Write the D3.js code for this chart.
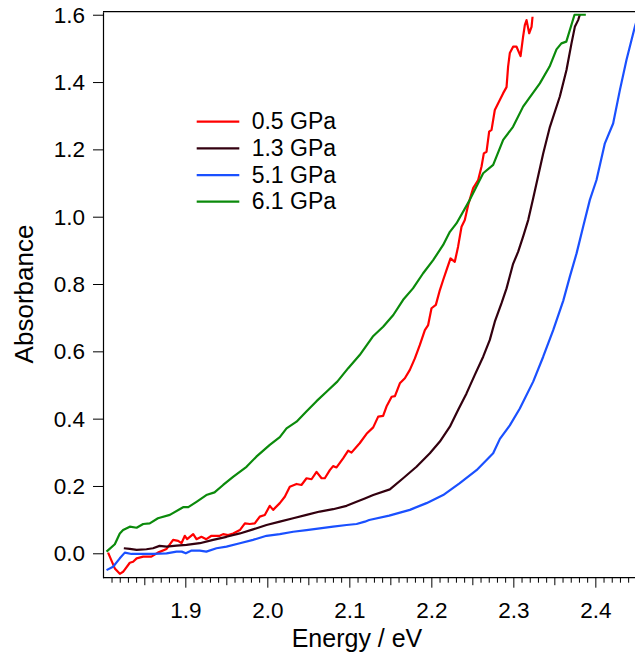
<!DOCTYPE html>
<html><head><meta charset="utf-8">
<script src="https://cdn.jsdelivr.net/npm/d3@7"></script>
<style>
html,body{margin:0;padding:0;background:#fff;overflow:hidden;}
text{font-family:"Liberation Sans",Arial,Helvetica,sans-serif;fill:#000;}
</style></head>
<body>
<svg id="chart" width="635" height="657"></svg>
<script>
// ---------- data ----------
const seriesNames = ["0.5 GPa", "1.3 GPa", "5.1 GPa", "6.1 GPa"];
const seriesColors = ["#ff0000", "#33000f", "#1a50ff", "#0b8a0b"];

const energy05 = [1.8052,1.8134,1.8195,1.8235,1.8317,1.8357,1.840,1.848,1.858,1.866,1.8765,1.8845,1.8906,1.8947,1.8988,1.9016,1.909,1.913,1.919,1.925,1.9313,1.9415,1.9455,1.9516,1.9577,1.9659,1.972,1.978,1.9841,1.9902,1.9963,2.0024,2.0065,2.0146,2.0207,2.0268,2.035,2.041,2.0472,2.0533,2.0594,2.0655,2.0695,2.0756,2.0796,2.0838,2.0918,2.098,2.102,2.1101,2.112,2.1204,2.1285,2.1346,2.1406,2.1447,2.151,2.155,2.161,2.1671,2.1732,2.1793,2.1854,2.1915,2.1955,2.1996,2.2049,2.2098,2.2138,2.2187,2.2228,2.228,2.232,2.2362,2.2402,2.2443,2.2504,2.2565,2.2606,2.2634,2.2667,2.2699,2.2728,2.2768,2.2809,2.287,2.2911,2.293,2.2951,2.2991,2.3033,2.3082,2.3113,2.3134,2.3155,2.3187,2.3216,2.3228];
const absorb05 = [0.002,-0.045,-0.061,-0.055,-0.028,-0.025,-0.015,-0.010,-0.010,0.002,0.013,0.040,0.037,0.030,0.052,0.042,0.057,0.042,0.049,0.042,0.052,0.052,0.057,0.054,0.059,0.069,0.089,0.087,0.089,0.109,0.114,0.141,0.129,0.149,0.168,0.198,0.206,0.203,0.223,0.220,0.242,0.223,0.223,0.247,0.259,0.255,0.282,0.305,0.299,0.322,0.327,0.355,0.374,0.406,0.408,0.436,0.465,0.467,0.505,0.520,0.545,0.579,0.619,0.663,0.678,0.728,0.738,0.782,0.812,0.847,0.876,0.866,0.911,0.970,0.990,1.035,1.085,1.109,1.149,1.188,1.193,1.253,1.258,1.317,1.337,1.367,1.385,1.446,1.486,1.505,1.505,1.477,1.535,1.569,1.584,1.545,1.564,1.594];

const energy13 = [1.8244,1.8317,1.840,1.852,1.860,1.868,1.8765,1.8887,1.9008,1.917,1.9333,1.9496,1.9659,1.982,1.9984,2.0146,2.0309,2.0472,2.0634,2.0796,2.096,2.1082,2.1183,2.1285,2.1488,2.165,2.1813,2.1976,2.2098,2.222,2.232,2.2423,2.2524,2.2626,2.2707,2.2768,2.285,2.2911,2.2991,2.3053,2.3113,2.3175,2.3236,2.3358,2.344,2.3561,2.3642,2.3703,2.3744,2.3784,2.3805];
const absorb13 = [0.015,0.013,0.010,0.012,0.015,0.022,0.020,0.023,0.025,0.030,0.040,0.049,0.059,0.071,0.084,0.094,0.104,0.114,0.124,0.131,0.141,0.153,0.163,0.173,0.190,0.223,0.257,0.297,0.332,0.376,0.426,0.475,0.530,0.584,0.634,0.688,0.743,0.787,0.860,0.896,0.941,0.990,1.055,1.188,1.267,1.357,1.436,1.515,1.564,1.584,1.600];

const energy51 = [1.8033,1.8113,1.8195,1.8256,1.8338,1.848,1.860,1.8765,1.8887,1.895,1.900,1.907,1.917,1.925,1.9374,1.9496,1.9659,1.982,1.9984,2.0146,2.0309,2.0472,2.0634,2.0796,2.096,2.1082,2.1183,2.1236,2.148,2.1732,2.1935,2.2138,2.2337,2.2545,2.2748,2.283,2.2951,2.3073,2.3236,2.3358,2.348,2.3602,2.3683,2.3765,2.3845,2.3927,2.4008,2.411,2.4211,2.4293,2.4374,2.4435,2.4476,2.452];
const absorb51 = [-0.050,-0.040,-0.015,0.002,-0.002,-0.002,-0.002,0.000,0.005,0.005,0.000,0.008,0.008,0.005,0.015,0.020,0.030,0.040,0.052,0.057,0.064,0.069,0.074,0.079,0.084,0.087,0.094,0.099,0.112,0.129,0.149,0.173,0.208,0.247,0.297,0.340,0.380,0.430,0.510,0.584,0.663,0.750,0.822,0.891,0.970,1.050,1.109,1.218,1.277,1.376,1.466,1.525,1.564,1.600];

const energy61 = [1.8033,1.8134,1.8195,1.8235,1.8317,1.840,1.848,1.856,1.866,1.8805,1.8967,1.903,1.913,1.925,1.935,1.9455,1.958,1.974,1.986,2.0024,2.0146,2.0228,2.035,2.047,2.0594,2.0716,2.0847,2.098,2.112,2.128,2.1406,2.153,2.165,2.177,2.1894,2.2016,2.2138,2.222,2.230,2.2463,2.2626,2.2748,2.287,2.299,2.3113,2.3317,2.3436,2.352,2.358,2.364,2.374,2.3878];
const absorb61 = [0.005,0.027,0.059,0.069,0.079,0.076,0.087,0.089,0.104,0.114,0.137,0.137,0.153,0.173,0.181,0.203,0.228,0.257,0.287,0.322,0.345,0.371,0.391,0.421,0.452,0.480,0.510,0.550,0.589,0.644,0.673,0.708,0.753,0.787,0.832,0.871,0.916,0.955,0.980,1.050,1.129,1.154,1.228,1.267,1.327,1.396,1.446,1.497,1.515,1.520,1.600,1.600];

const yTickValues = [0.0,0.2,0.4,0.6,0.8,1.0,1.2,1.4,1.6];
const xTickValues = [1.9,2.0,2.1,2.2,2.3,2.4];
const xTitle = "Energy / eV";
const yTitle = "Absorbance";

// ---------- layout ----------
const energies = [energy05, energy13, energy51, energy61];
const absorbs = [absorb05, absorb13, absorb51, absorb61];
const series = seriesNames.map((n,i)=>({name:n,color:seriesColors[i],
  pts: energies[i].map((e,j)=>[e, absorbs[i][j]])}));

const svg = d3.select("#chart");
const pLeft = 103, pRight = 653, pTop = 11.7, pBottom = 577.7;
const x = d3.scaleLinear().domain([1.799, 2.4697]).range([pLeft, pRight]);
const y = d3.scaleLinear().domain([-0.0725, 1.609]).range([pBottom, pTop]);

svg.append("clipPath").attr("id","plotclip").append("rect")
  .attr("x",pLeft).attr("y",pTop).attr("width",pRight-pLeft).attr("height",pBottom-pTop);

// curves
const line = d3.line().x(d=>x(d[0])).y(d=>y(d[1]));
svg.append("g").attr("clip-path","url(#plotclip)")
  .selectAll("path").data(series).join("path")
  .attr("d",d=>line(d.pts)).attr("fill","none")
  .attr("stroke",d=>d.color).attr("stroke-width",2.2)
  .attr("stroke-linejoin","round");

// frame top line
svg.append("line").attr("x1",pLeft).attr("x2",pRight).attr("y1",pTop).attr("y2",pTop)
  .attr("stroke","#000").attr("stroke-width",1.2);

// y axis
const yAxis = d3.axisLeft(y).tickValues(yTickValues).tickSize(10).tickSizeOuter(0)
  .tickPadding(8).tickFormat(d3.format(".1f"));
const gy = svg.append("g").attr("transform",`translate(${pLeft},0)`).call(yAxis);
gy.select(".domain").attr("stroke","#000").attr("stroke-width",1.2);
gy.selectAll(".tick line").attr("stroke","#000").attr("stroke-width",1);
gy.selectAll(".tick text").attr("font-size",22.5).attr("dy","0.33em")
  .style("font-family",'"Liberation Sans",Arial,sans-serif');

// x axis (major, medium, minor ticks)
const minorVals = d3.range(181, 247).map(v=>v/100);
const gx = svg.append("g").attr("transform",`translate(0,${pBottom})`);
gx.append("line").attr("x1",pLeft).attr("x2",pRight).attr("y1",0).attr("y2",0)
  .attr("stroke","#000").attr("stroke-width",1.2);
gx.selectAll("line.tk").data(minorVals).join("line").attr("class","tk")
  .attr("x1",d=>x(d)).attr("x2",d=>x(d)).attr("y1",0)
  .attr("y2",d=>{const k=Math.round(d*100)%10; return k===0?10:(k===5?7.5:5);})
  .attr("stroke","#000").attr("stroke-width",1);
gx.selectAll("text").data(xTickValues).join("text")
  .attr("x",d=>x(d)).attr("y",40.5).attr("text-anchor","middle")
  .attr("font-size",22.5).text(d3.format(".1f"));

// axis titles
svg.append("text").attr("x",357).attr("y",646.5).attr("text-anchor","middle")
  .attr("font-size",25).text(xTitle);
svg.append("text").attr("transform","translate(33,294) rotate(-90)")
  .attr("text-anchor","middle").attr("font-size",26).text(yTitle);

// legend
const lg = svg.append("g");
const rowY = i => 121.7 + i*26.67;
lg.selectAll("line").data(series).join("line")
  .attr("x1",196.7).attr("x2",239.3).attr("y1",(d,i)=>rowY(i)).attr("y2",(d,i)=>rowY(i))
  .attr("stroke",d=>d.color).attr("stroke-width",2.2);
lg.selectAll("text").data(series).join("text")
  .attr("x",251.7).attr("y",(d,i)=>rowY(i)+7.6).attr("font-size",23).text(d=>d.name);
</script>
</body></html>
